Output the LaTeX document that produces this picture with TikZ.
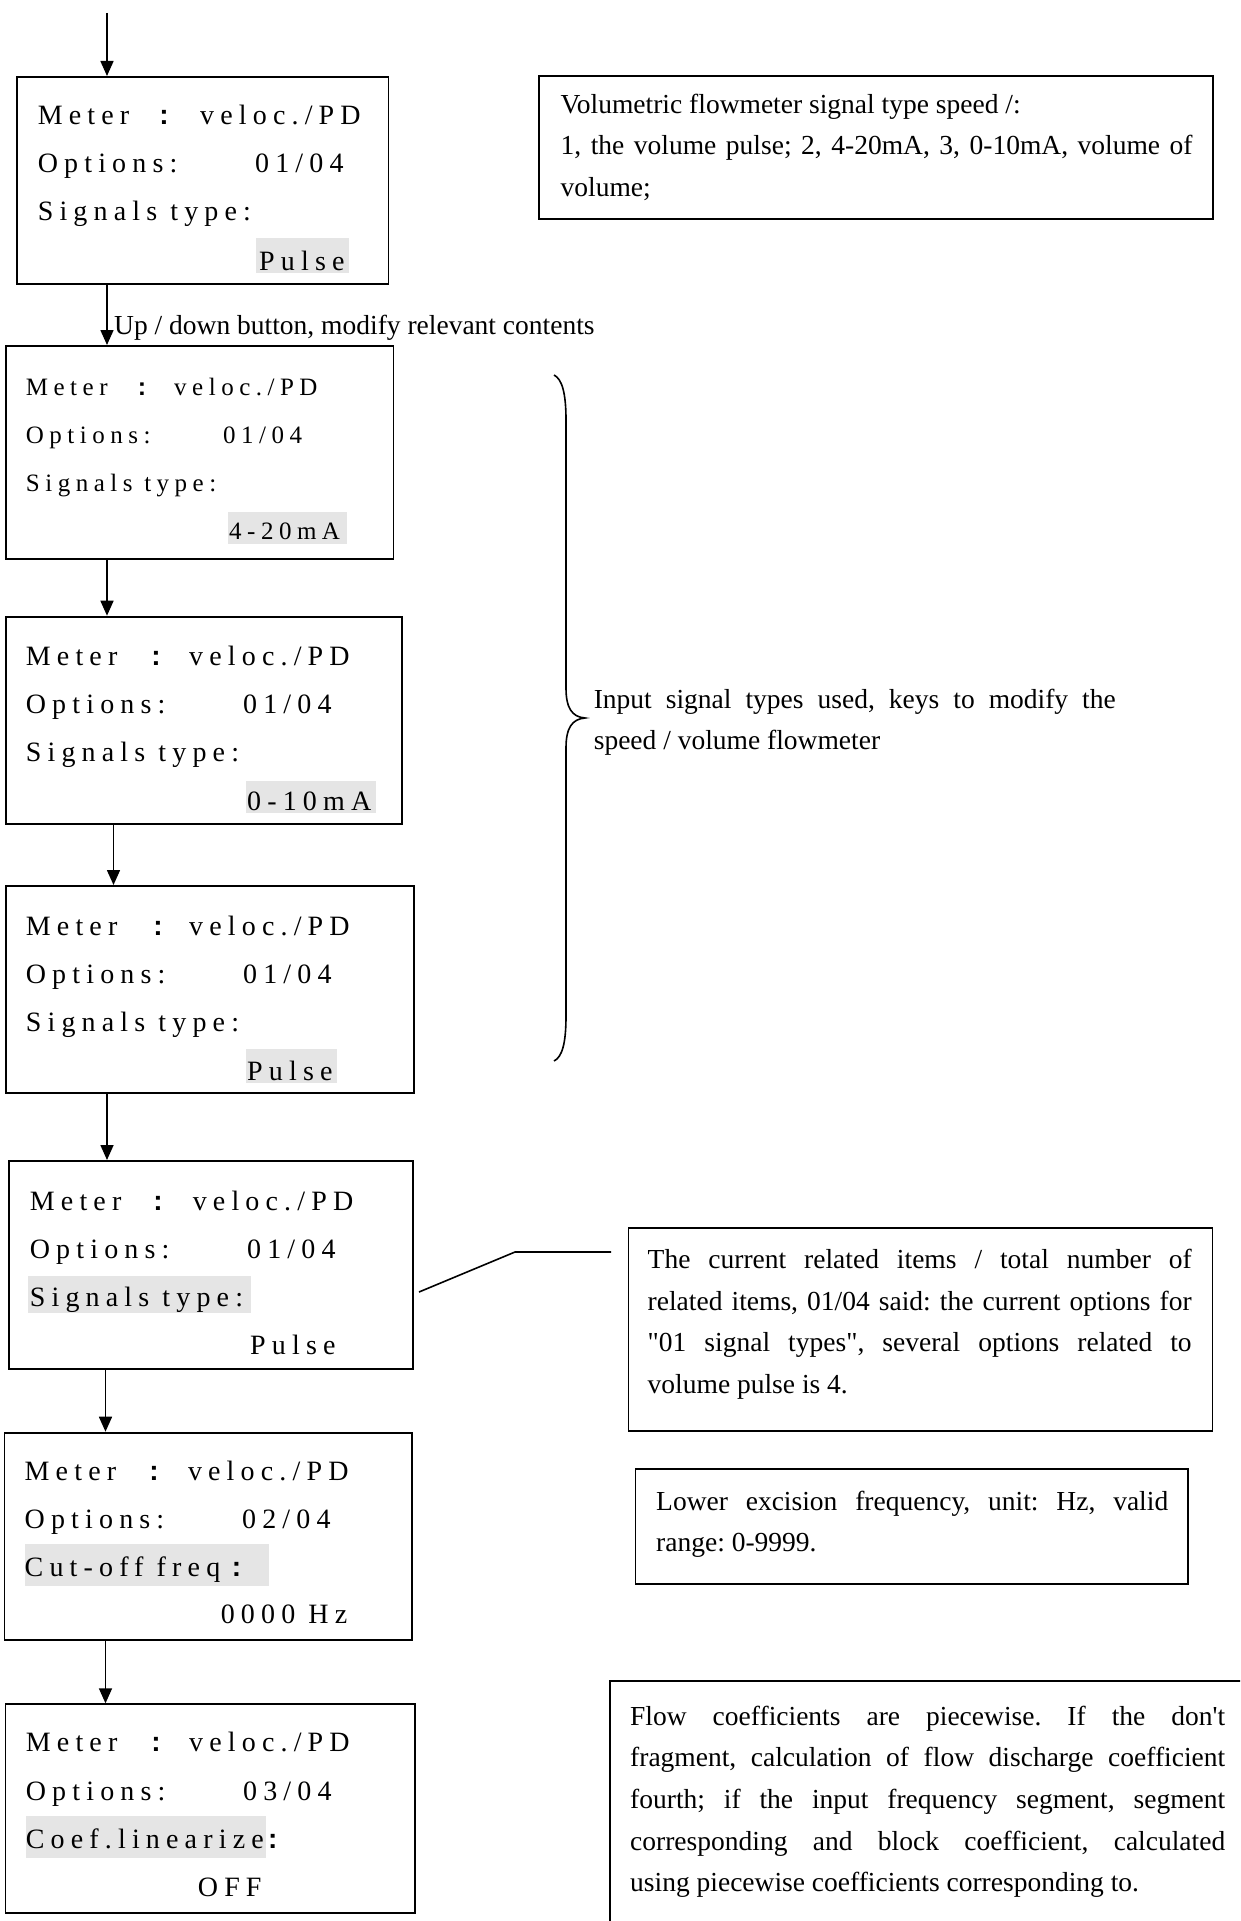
\documentclass[tikz,border=0pt]{standalone}
\usepackage{fontspec}
\usetikzlibrary{arrows.meta}

% fonts: tracked serif for the display panels, plain serif for the notes
\newfontfamily\notefont{Liberation Serif}
\newfontfamily\lcdfont[LetterSpace=22]{Liberation Serif}
\newfontfamily\colonfont{Liberation Sans}

\definecolor{hl}{gray}{0.9}

% one justified line of a note
\newcommand\jline[2]{\makebox[#1][s]{#2}}

\tikzset{
  panel/.style={draw, line width=1.8pt, rectangle, inner sep=0pt, anchor=north west},
  note/.style={draw, line width=1.8pt, rectangle, inner sep=0pt, anchor=north west},
  lcd/.style={anchor=base west, inner sep=0pt, font=\lcdfont\fontsize{28}{28}\selectfont},
  lcdsm/.style={anchor=base west, inner sep=0pt, font=\lcdfont\fontsize{25}{25}\selectfont},
  colon/.style={anchor=base, inner sep=0pt, font=\colonfont\bfseries\fontsize{28}{28}\selectfont},
  colonsm/.style={anchor=base, inner sep=0pt, font=\colonfont\bfseries\fontsize{25}{25}\selectfont},
  txt/.style={anchor=base west, inner sep=0pt, font=\notefont\fontsize{27.5}{41.7}\selectfont\frenchspacing},
  flow/.style={line width=1.6pt, -{Triangle[length=15pt,width=13pt]}},
  thin/.style={line width=1.6pt},
}

\begin{document}
\frenchspacing
\begin{tikzpicture}[x=1pt, y=-1pt]
\useasboundingbox (0,0) rectangle (1240,1921);
\clip (0,0) rectangle (1240,1921);
\fill[white] (0,0) rectangle (1240,1921);

% ---------- display panels ----------
\node[panel, minimum width=371.5pt, minimum height=207pt]   (p1) at (16,76)      {};
\node[panel, minimum width=387.5pt, minimum height=212.7pt] (p2) at (5,345)      {};
\node[panel, minimum width=396pt,   minimum height=207.7pt] (p3) at (5,615.7)    {};
\node[panel, minimum width=408pt,   minimum height=207.3pt] (p4) at (5,885)      {};
\node[panel, minimum width=403.7pt, minimum height=208.3pt] (p5) at (8.3,1160)   {};
\node[panel, minimum width=407.5pt, minimum height=207.6pt] (p6) at (3.5,1431.7) {};
\node[panel, minimum width=409.5pt, minimum height=208.4pt] (p7) at (4.5,1703.3) {};

% highlighted fields
\fill[hl] (256,238) rectangle (349,273);
\fill[hl] (228,512.3) rectangle (347,544.3);
\fill[hl] (246,780.7) rectangle (376.4,813.3);
\fill[hl] (246,1049) rectangle (337,1082.7);
\fill[hl] (27.7,1276) rectangle (251,1312.7);
\fill[hl] (24.5,1544.3) rectangle (269,1585.7);
\fill[hl] (25.7,1816) rectangle (266,1857.7);

% panel 1
\node[lcd]   (p1a) at (37.6,125) {Meter};
\node[colon] (p1b) at (164,125) {:};
\node[lcd]   (p1c) at (200,125) {veloc./PD};
\node[lcd]   (p1d) at (37.6,173) {Options:};
\node[lcd]   (p1e) at (255,173) {01/04};
\node[lcd]   (p1f) at (37.6,220) {Signals type:};
\node[lcd]   (p1g) at (259,270) {Pulse};

% panel 2
\node[lcdsm]   (p2a) at (25.7,395) {Meter};
\node[colonsm] (p2b) at (142,395) {:};
\node[lcdsm]   (p2c) at (174,395) {veloc./PD};
\node[lcdsm]   (p2d) at (25.7,443.3) {Options:};
\node[lcdsm]   (p2e) at (223,443.3) {01/04};
\node[lcdsm]   (p2f) at (25.7,491.7) {Signals type:};
\node[lcdsm]   (p2g) at (229,539.3) {4-20mA};

% panel 3
\node[lcd]   (p3a) at (25.7,665) {Meter};
\node[colon] (p3b) at (156,665) {:};
\node[lcd]   (p3c) at (189,665) {veloc./PD};
\node[lcd]   (p3d) at (25.7,713) {Options:};
\node[lcd]   (p3e) at (243,713) {01/04};
\node[lcd]   (p3f) at (25.7,761.7) {Signals type:};
\node[lcd]   (p3g) at (247,810) {0-10mA};

% panel 4
\node[lcd]   (p4a) at (25.7,935) {Meter};
\node[colon] (p4b) at (158,935) {:};
\node[lcd]   (p4c) at (189,935) {veloc./PD};
\node[lcd]   (p4d) at (25.7,983.3) {Options:};
\node[lcd]   (p4e) at (243,983.3) {01/04};
\node[lcd]   (p4f) at (25.7,1031.7) {Signals type:};
\node[lcd]   (p4g) at (247,1080) {Pulse};

% panel 5
\node[lcd]   (p5a) at (29.7,1210) {Meter};
\node[colon] (p5b) at (158,1210) {:};
\node[lcd]   (p5c) at (192.6,1210) {veloc./PD};
\node[lcd]   (p5d) at (29.7,1258.3) {Options:};
\node[lcd]   (p5e) at (247,1258.3) {01/04};
\node[lcd]   (p5f) at (29.7,1306.7) {Signals type:};
\node[lcd]   (p5g) at (250,1354) {Pulse};

% panel 6
\node[lcd]   (p6a) at (24.5,1480) {Meter};
\node[colon] (p6b) at (154,1480) {:};
\node[lcd]   (p6c) at (187.8,1480) {veloc./PD};
\node[lcd]   (p6d) at (24.5,1528.3) {Options:};
\node[lcd]   (p6e) at (242,1528.3) {02/04};
\node[lcd]   (p6f) at (24.5,1576) {Cut-off freq};
\node[colon] (p6h) at (236.5,1576) {:};
\node[lcd]   (p6g) at (220.6,1623.3) {0000 Hz};

% panel 7
\node[lcd]   (p7a) at (25.7,1751.7) {Meter};
\node[colon] (p7b) at (156,1751.7) {:};
\node[lcd]   (p7c) at (189,1751.7) {veloc./PD};
\node[lcd]   (p7d) at (25.7,1800) {Options:};
\node[lcd]   (p7e) at (243,1800) {03/04};
\node[lcd]   (p7f) at (25.7,1848.3) {Coef.linearize};
\node[colon] (p7h) at (272.8,1848.3) {:};
\node[lcd]   (p7g) at (197.7,1896.7) {OFF};

% ---------- flow arrows ----------
\coordinate (start) at (107,13);
\coordinate (ax1) at (107,0);
\coordinate (ax3) at (113.5,0);
\coordinate (ax5) at (105.5,0);
\draw[flow] (start) -- (p1.north -| start);
\draw[flow] (p1.south -| ax1) -- (p2.north -| ax1);
\draw[flow] (p2.south -| ax1) -- (p3.north -| ax1);
\draw[flow] (p3.south -| ax3) -- (p4.north -| ax3);
\draw[flow] (p4.south -| ax1) -- (p5.north -| ax1);
\draw[flow] (p5.south -| ax5) -- (p6.north -| ax5);
\draw[flow] (p6.south -| ax5) -- (p7.north -| ax5);

\node[txt] (keys) at (114,334) {Up / down button, modify relevant contents};

% ---------- notes ----------
\node[note, minimum width=674pt, minimum height=143pt] (nvol) at (538.4,75) {};
\node[txt] (nvolt) at (560.4,113.3) {\parbox[t]{632pt}{%
  Volumetric flowmeter signal type speed /:\\
  \jline{632pt}{1, the volume pulse; 2, 4-20mA, 3, 0-10mA, volume of}\\
  volume;}};

% brace over the three alternative signal types
\coordinate (btip) at (585,718);
\draw[thin] (554,375) .. controls (562,379) and (566,393) .. (566,420)
  -- (566,688) .. controls (566,708) and (572,717) .. (btip)
  .. controls (572,719) and (566,728) .. (566,748)
  -- (566,1016) .. controls (566,1044) and (562,1057) .. (554,1061);
\node[txt] (nbrace) at (593.6,708) {\parbox[t]{522pt}{%
  \jline{522pt}{Input signal types used, keys to modify the}\\
  speed / volume flowmeter}};

% callout for the item counter
\coordinate (k0) at (419,1292);
\coordinate (k1) at (515,1252);
\coordinate (k2) at (611,1252);
\draw[thin] (k0) -- (k1) -- (k2);
\node[note, minimum width=584pt, minimum height=203.3pt] (nitem) at (627.6,1226.7) {};
\node[txt] (nitemt) at (647.5,1268.3) {\parbox[t]{544pt}{%
  \jline{544pt}{The current related items / total number of}\\
  \jline{544pt}{related items, 01/04 said: the current options for}\\
  \jline{544pt}{"01 signal types", several options related to}\\
  volume pulse is 4.}};

\node[note, minimum width=552.8pt, minimum height=115pt] (ncut) at (634.6,1468) {};
\node[txt] (ncutt) at (656,1510) {\parbox[t]{512pt}{%
  \jline{512pt}{Lower excision frequency, unit: Hz, valid}\\
  range: 0-9999.}};

\node[note, minimum width=680pt, minimum height=300pt] (ncoef) at (609,1680) {};
\node[txt] (ncoeft) at (630,1725) {\parbox[t]{595pt}{%
  \jline{595pt}{Flow coefficients are piecewise. If the don't}\\
  \jline{595pt}{fragment, calculation of flow discharge coefficient}\\
  \jline{595pt}{fourth; if the input frequency segment, segment}\\
  \jline{595pt}{corresponding and block coefficient, calculated}\\
  using piecewise coefficients corresponding to.}};
\end{tikzpicture}
\end{document}
